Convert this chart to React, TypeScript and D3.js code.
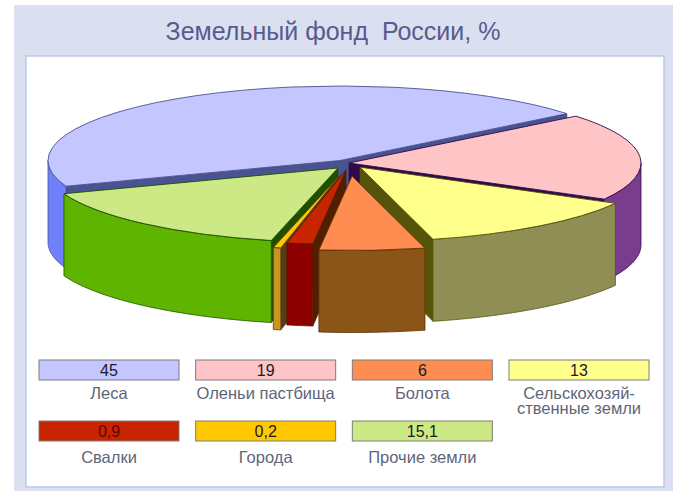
import React from "react";
import * as d3 from "d3";

// Slices, clockwise, starting from the forest slice
const sliceNames = ["Леса", "Оленьи пастбища", "Сельскохозяй-\nственные земли", "Болота", "Свалки", "Города", "Прочие земли"];
const sliceLabels = ["45", "19", "13", "6", "0,9", "0,2", "15,1"];
// Visible share of each slice (the labels above are the printed values)
const sliceShares = [44.78, 18.89, 12.92, 5.83, 1.44, 0.42, 15.72];
const topColors = ["#c4c6ff", "#ffc4c6", "#ffff8c", "#ff8c50", "#c82400", "#ffc800", "#cce986"];
const wallColors = ["#7080fa", "#7a3c8c", "#8f8f55", "#8c5518", "#8c0000", "#c8961e", "#5fb400"];
const edgeColors = ["#4a5290", "#2e0a4a", "#55550a", "#5a3008", "#521e00", "#5a3c14", "#1e5000"];
const legendOrder = [0, 1, 3, 2, 4, 5, 6];

// Layout
const W = 673, H = 491;
const pieCx = 345, pieCy = 165, rx = 292, ry = 74.5, depth = 82;
const explodeX = [-5, 4, 15, 7, 1, -5, -7];
const explodeY = [-4.5, -2, 2.2, 11, 5, 10, 3];
const drawOrder = [0, 1, 2, 6, 5, 4, 3];
const startDeg = -110.2;
const rad = Math.PI / 180;

const pie = d3.pie<number>().sort(null)
  .startAngle(startDeg * rad)
  .endAngle((startDeg + 360) * rad)
  .value((d) => d);
const arcs = pie(sliceShares);
const arcGen = d3.arc<any>().innerRadius(0).outerRadius(rx);
const lineGen = d3.line<[number, number]>();

const pt = (a: number): [number, number] => [rx * Math.sin(a), -ry * Math.cos(a)];

function outerWall(a0: number, a1: number): string[] {
  const out: string[] = [];
  for (const k of [-2 * Math.PI, 0]) {
    const lo = Math.max(a0, Math.PI / 2 + k);
    const hi = Math.min(a1, (3 * Math.PI) / 2 + k);
    if (hi <= lo) continue;
    const angles = [...d3.range(lo, hi, 0.01), hi];
    const top = angles.map(pt);
    const bottom = top.map(([x, y]) => [x, y + depth] as [number, number]).reverse();
    out.push(lineGen([...top, ...bottom]) + "Z");
  }
  return out;
}

function radialWall(a: number): string {
  const [x, y] = pt(a);
  return lineGen([[0, 0], [x, y], [x, y + depth], [0, depth]]) + "Z";
}

const legendX = d3.scalePoint<number>().domain([0, 1, 2, 3]).range([39, 509]);
const legendY = d3.scalePoint<number>().domain([0, 1]).range([360, 421]);
const swatchW = 140, swatchH = 20;
const font = "'Liberation Sans', Arial, sans-serif";

export default function App() {
  return (
    <svg width={W} height={H} style={{ position: "absolute", left: 0, top: 0 }} fontFamily={font}>
      <rect width={W} height={H} fill="#ffffff" />
      <rect x={14} y={5} width={W - 14} height={H - 5} fill="#dbe0f0" />
      <rect x={26} y={56} width={638} height={431} fill="#ffffff" stroke="#bcc8ea" strokeWidth={1.5} />
      <text x={333} y={40} textAnchor="middle" fontSize={25} fill="#5a5a8e" style={{ whiteSpace: "pre" }}>
        {"Земельный фонд  России, %"}
      </text>

      {drawOrder.map((i) => {
        const d = arcs[i];
        const a0 = d.startAngle, a1 = d.endAngle;
        const tx = pieCx + explodeX[i], ty = pieCy + explodeY[i];
        return (
          <g key={i} transform={`translate(${tx},${ty})`}>
            {-Math.sin(a0) > 0 && (
              <path d={radialWall(a0)} fill={edgeColors[i]} stroke={edgeColors[i]} strokeWidth={0.6} />
            )}
            {Math.sin(a1) > 0 && (
              <path d={radialWall(a1)} fill={edgeColors[i]} stroke={edgeColors[i]} strokeWidth={0.6} />
            )}
            {outerWall(a0, a1).map((p, k) => (
              <path key={k} d={p} fill={wallColors[i]} stroke={edgeColors[i]} strokeWidth={0.8} />
            ))}
            <g transform={`scale(1,${ry / rx})`}>
              <path
                d={arcGen({ startAngle: a0, endAngle: a1 }) as string}
                fill={topColors[i]}
                stroke={edgeColors[i]}
                strokeWidth={0.9}
                vectorEffect="non-scaling-stroke"
              />
            </g>
          </g>
        );
      })}

      {legendOrder.map((i, n) => {
        const col = n % 4, row = Math.floor(n / 4);
        const x = legendX(col)!, y = legendY(row)!;
        const lines = sliceNames[i].split("\n");
        const cx = x + swatchW / 2;
        return (
          <g key={i}>
            <rect x={x} y={y} width={swatchW} height={swatchH} fill={topColors[i]} stroke="#7c7c7c" strokeWidth={1} />
            <text x={cx} y={y + 15.5} textAnchor="middle" fontSize={16} fill={i === 4 ? "#5a0a00" : "#1a1a24"}>
              {sliceLabels[i]}
            </text>
            {lines.map((t, k) => (
              <text key={k} x={cx} y={y + (row === 0 ? 39 : 42) + k * 15} textAnchor="middle" fontSize={16.5} fill="#5e6678">
                {t}
              </text>
            ))}
          </g>
        );
      })}
    </svg>
  );
}
